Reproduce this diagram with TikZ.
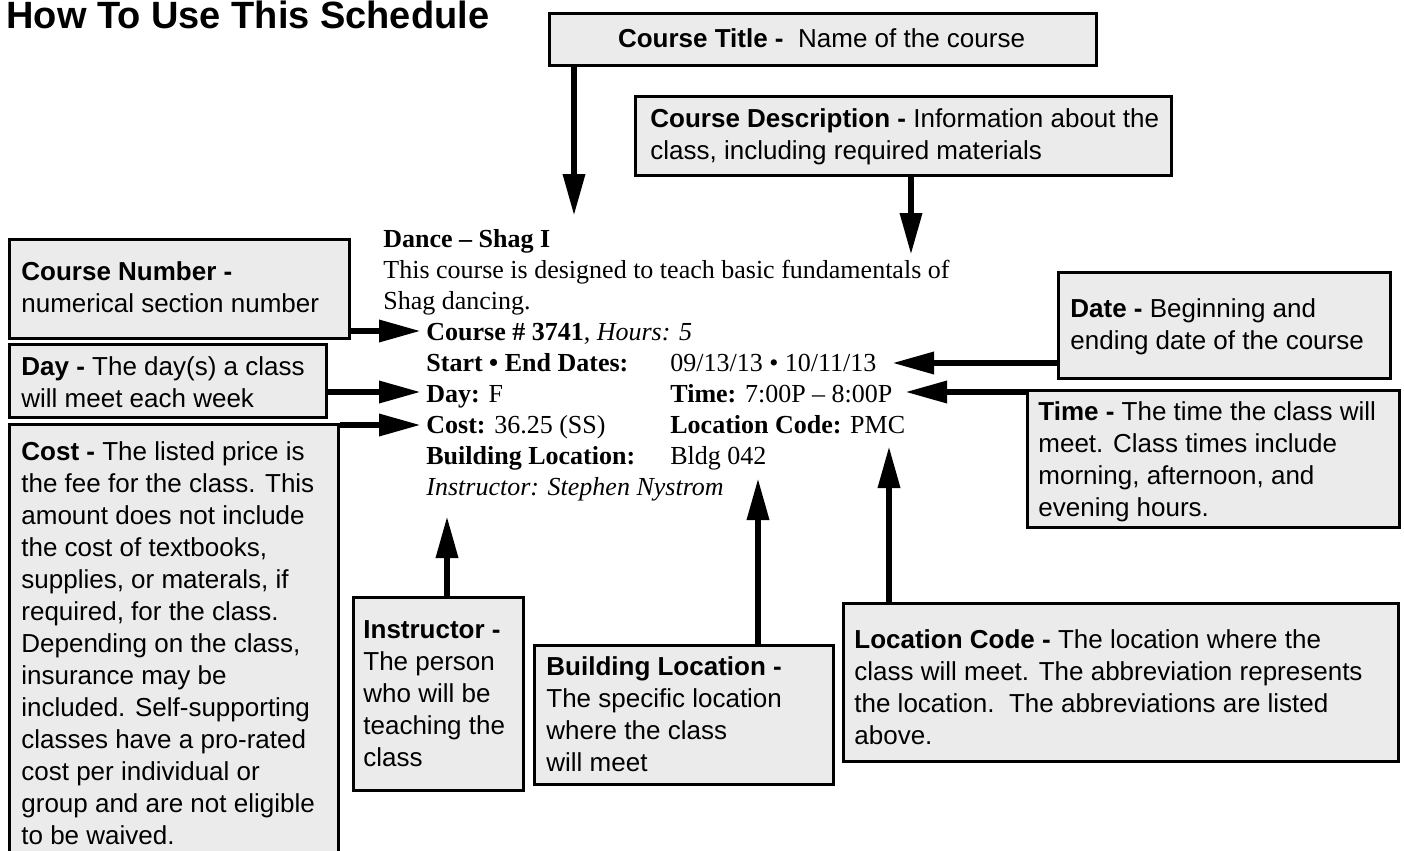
\documentclass[tikz,border=0pt]{standalone}
\usepackage{fontspec}
\setmainfont{Liberation Serif}
\setsansfont{Liberation Sans}
\usetikzlibrary{arrows.meta}
\definecolor{boxgray}{HTML}{EBEBEB}
\tikzset{
  box/.style={draw=black, fill=boxgray, line width=1.25pt, inner sep=0pt, anchor=north west},
  btxt/.style={inner sep=0pt, anchor=base west, align=left, font=\sffamily\fontsize{13pt}{16pt}\selectfont},
  stxt/.style={inner sep=0pt, anchor=base west, font=\rmfamily\fontsize{13pt}{15.5pt}\selectfont},
  arr/.style={line width=3.25pt, -{Triangle[length=21pt,width=10.5pt]}}
}
\newcommand{\mybox}[5]{\node[box, minimum width={(#4-#2)*0.5pt}, minimum height={(#5-#3)*0.5pt}] (#1) at (#2,#3) {};}
\begin{document}
\begin{tikzpicture}[x=0.5pt,y=-0.5pt]
\useasboundingbox (0,0) rectangle (1404,851);
% title
\node[inner sep=0pt, anchor=base west, font=\sffamily\bfseries\fontsize{19pt}{21pt}\selectfont] (title) at (6,28) {How To Use This Schedule};
% boxes
\mybox{ct}{548}{12}{1095}{64}
\mybox{cd}{634}{95}{1170}{174}
\mybox{cn}{8}{238}{348}{337}
\mybox{dy}{8}{343}{325}{416}
\mybox{cs}{8}{423}{337}{870}
\mybox{dt}{1057}{271}{1389}{377}
\mybox{tm}{1026}{389}{1398}{526}
\mybox{ins}{352}{596}{522}{789}
\mybox{bl}{533}{644}{832}{783}
\mybox{lc}{842}{602}{1397}{760}
% box texts (anchored at the baseline of the last line)
\node[btxt, anchor=base] (ctt) at (821.5,47) {\textbf{Course Title -}\ \ Name of the course};
\node[btxt] (cdt) at (650,159) {\textbf{Course Description -} Information about the\\class, including required materials};
\node[btxt] (cnt) at (21,312) {\textbf{Course Number -}\\numerical section number};
\node[btxt] (dyt) at (21,407) {\textbf{Day -} The day(s) a class\\will meet each week};
\node[btxt] (cst) at (21,844) {\textbf{Cost -} The listed price is\\the fee for the class. This\\amount does not include\\the cost of textbooks,\\supplies, or materals, if\\required, for the class.\\Depending on the class,\\insurance may be\\included. Self-supporting\\classes have a pro-rated\\cost per individual or\\group and are not eligible\\to be waived.};
\node[btxt] (dtt) at (1070,349) {\textbf{Date -} Beginning and\\ending date of the course};
\node[btxt] (tmt) at (1038,516) {\textbf{Time -} The time the class will\\meet. Class times include\\morning, afternoon, and\\evening hours.};
\node[btxt] (inst) at (363,766) {\textbf{Instructor -}\\The person\\who will be\\teaching the\\class};
\node[btxt] (blt) at (546,771) {\textbf{Building Location -}\\The specific location\\where the class\\will meet};
\node[btxt] (lct) at (854,744) {\textbf{Location Code -} The location where the\\class will meet. The abbreviation represents\\the location.\ \ The abbreviations are listed\\above.};
% listing text
\node[stxt] (l1) at (383,247) {\textbf{Dance – Shag I}};
\node[stxt] (l2) at (383,278) {This course is designed to teach basic fundamentals of};
\node[stxt] (l3) at (383,309) {Shag dancing.};
\node[stxt] (l4) at (426,340) {\textbf{Course \# 3741}, \textit{Hours: 5}};
\node[stxt] (l5a) at (426,371) {\textbf{Start • End Dates:}};
\node[stxt] (l5b) at (670,371) {09/13/13 • 10/11/13};
\node[stxt] (l6a) at (426,402) {\textbf{Day:} F};
\node[stxt] (l6b) at (670,402) {\textbf{Time:} 7:00P – 8:00P};
\node[stxt] (l7a) at (426,433) {\textbf{Cost:} 36.25 (SS)};
\node[stxt] (l7b) at (670,433) {\textbf{Location Code:} PMC};
\node[stxt] (l8a) at (426,464) {\textbf{Building Location:}};
\node[stxt] (l8b) at (670,464) {Bldg 042};
\node[stxt] (l9) at (426,495) {\textit{Instructor: Stephen Nystrom}};
% arrow tips
\coordinate (tCT) at (574,216);
\coordinate (tCD) at (911,255);
\coordinate (tCN) at (421,331);
\coordinate (tDY) at (421,392);
\coordinate (tCS) at (421,425);
\coordinate (tDT) at (892,363);
\coordinate (tTM) at (905,392);
\coordinate (tIN) at (447,516);
\coordinate (tBL) at (758,478);
\coordinate (tLC) at (889,446);
% arrows
\draw[arr] (ct.south -| tCT) -- (tCT);
\draw[arr] (cd.south -| tCD) -- (tCD);
\draw[arr] (cn.east |- tCN) -- (tCN);
\draw[arr] (dy.east |- tDY) -- (tDY);
\draw[arr] (cs.east |- tCS) -- (tCS);
\draw[arr] (dt.west |- tDT) -- (tDT);
\draw[arr] (tm.west |- tTM) -- (tTM);
\draw[arr] (ins.north -| tIN) -- (tIN);
\draw[arr] (bl.north -| tBL) -- (tBL);
\draw[arr] (lc.north -| tLC) -- (tLC);
\end{tikzpicture}
\end{document}
